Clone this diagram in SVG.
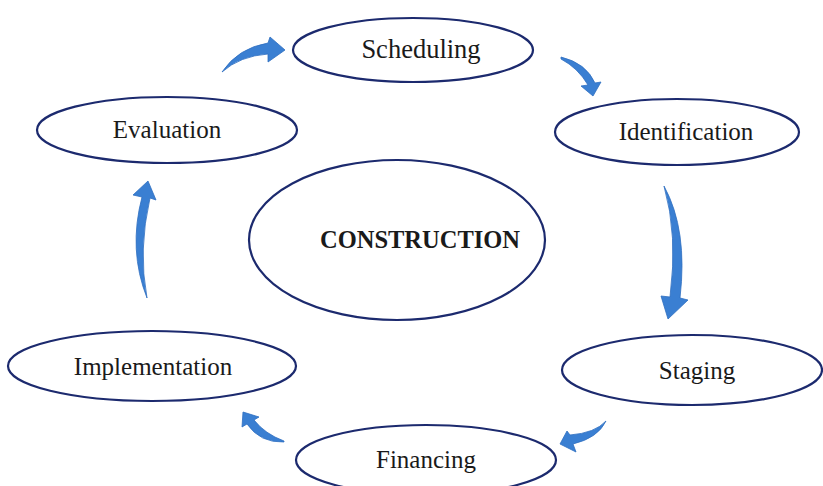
<svg xmlns="http://www.w3.org/2000/svg" width="823" height="486" viewBox="0 0 823 486">
<style>
.n ellipse{fill:#fff;stroke:#1c2a6e;stroke-width:2.2}
.n text{font-family:"Liberation Serif",serif;font-size:25px;fill:#1a1a1a;text-anchor:middle}
.c path{fill:#3a7fd2;stroke:#2f6fc0;stroke-width:0.8;stroke-linejoin:round}
</style>
<rect width="823" height="486" fill="#fff"/>
<g id="construction" class="n"><ellipse cx="397" cy="240" rx="148" ry="80"/><text x="420" y="248" style="font-weight:bold;font-size:24.5px">CONSTRUCTION</text></g>
<g id="scheduling" class="n"><ellipse cx="413" cy="50" rx="120" ry="32"/><text x="421" y="58" style="font-size:26.5px">Scheduling</text></g>
<g id="identification" class="n"><ellipse cx="677" cy="132" rx="122" ry="33"/><text x="686" y="140">Identification</text></g>
<g id="evaluation" class="n"><ellipse cx="167" cy="130" rx="130" ry="33"/><text x="167" y="138">Evaluation</text></g>
<g id="implementation" class="n"><ellipse cx="152" cy="366" rx="144" ry="35"/><text x="153" y="375">Implementation</text></g>
<g id="staging" class="n"><ellipse cx="692" cy="370" rx="130" ry="35"/><text x="697" y="379">Staging</text></g>
<g id="financing" class="n"><ellipse cx="426" cy="460" rx="130" ry="35"/><text x="426" y="468">Financing</text></g>
<g id="connectors" class="c">
<path d="M222,72 Q238,48 268,43 L270,37 L285,50 L268,62 L268,54 Q240,56 222,72 Z"/>
<path d="M561,57 Q586,63 595,83 L601,82 L593,96 L581,86 L588,85 Q578,68 561,59 Z"/>
<path d="M664,186 Q688,230 680,298 L688,300 L668,319 L661,296 L670,297 Q678,235 664,186 Z"/>
<path d="M606,421 Q595,433 570,435 L567,431 L560,444 L576,452 L573,444 Q598,438 606,421 Z"/>
<path d="M284,441 Q265,434 254,420 L259,417 L243,412 L242,427 L247,424 Q260,443 284,442 Z"/>
<path d="M147,298 Q128,250 142,197 L133,195 L148,181 L156,200 L150,198 Q138,250 147,298 Z"/>
</g>
</svg>
